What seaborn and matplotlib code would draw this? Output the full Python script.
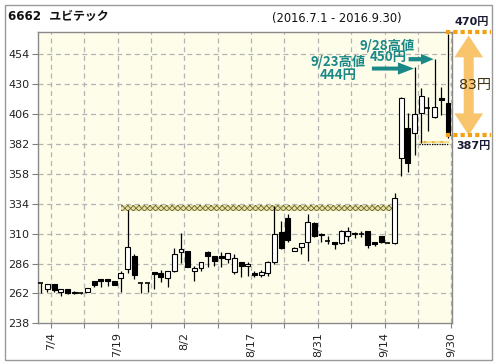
import numpy as np
import pandas as pd
import seaborn as sns
import matplotlib
matplotlib.use("Agg")
import matplotlib.pyplot as plt
from matplotlib.patches import FancyArrow, Rectangle

# ---------------- data ----------------
dates = ['7/1', '7/4', '7/5', '7/6', '7/7', '7/8', '7/11', '7/12', '7/13', '7/14', '7/15',
         '7/19', '7/20', '7/21', '7/22', '7/25', '7/26', '7/27', '7/28', '7/29',
         '8/1', '8/2', '8/3', '8/4', '8/5', '8/8', '8/9', '8/10', '8/12',
         '8/15', '8/16', '8/17', '8/18', '8/19', '8/22', '8/23', '8/24', '8/25', '8/26',
         '8/29', '8/30', '8/31', '9/1', '9/2', '9/5', '9/6', '9/7', '9/8', '9/9',
         '9/12', '9/13', '9/14', '9/15', '9/16', '9/20', '9/21', '9/23',
         '9/26', '9/27', '9/28', '9/29', '9/30']
opens = [270.1, 265.8, 269.3, 262.9, 265.3, 263.4, 262.2, 262.9, 271.7, 273.6, 273.3,
         272.0, 274.4, 281.8, 292.0, 270.3, 270.3, 279.0, 278.6, 274.6,
         280.2, 295.0, 296.0, 280.2, 282.6, 295.0, 292.0, 291.8, 289.9,
         279.0, 287.0, 283.8, 278.0, 276.5, 278.0, 287.0, 311.0, 322.3, 296.3,
         299.0, 303.5, 318.5, 310.0, 304.0, 303.3, 302.7, 308.1, 310.8, 310.0,
         312.0, 303.0, 308.0, 303.2, 302.2, 370.9, 394.5, 391.0,
         406.5, 411.5, 403.5, 418.6, 414.6]
highs = [270.1, 269.8, 269.5, 265.5, 265.3, 263.8, 262.2, 266.1, 271.7, 273.6, 273.3,
         272.0, 280.0, 329.0, 293.6, 270.3, 270.3, 279.0, 280.5, 279.7,
         298.7, 310.2, 296.0, 284.2, 287.0, 296.0, 292.0, 295.0, 294.2,
         293.4, 287.0, 287.5, 280.0, 281.0, 288.0, 332.0, 320.0, 325.7, 299.0,
         302.5, 325.7, 319.0, 310.5, 307.8, 303.5, 312.5, 315.6, 311.0, 312.0,
         312.3, 303.2, 308.3, 303.5, 342.4, 420.0, 406.5, 444.0,
         426.5, 420.0, 450.0, 427.4, 470.0]
lows = [262.6, 263.4, 263.4, 260.2, 261.8, 261.5, 261.3, 262.9, 267.4, 267.4, 268.2,
        268.7, 263.4, 278.1, 273.6, 262.1, 263.4, 265.5, 270.9, 267.4,
        279.0, 286.7, 283.4, 272.2, 280.2, 283.4, 284.2, 283.4, 286.2,
        277.8, 275.4, 276.2, 275.5, 275.0, 276.0, 286.0, 298.0, 303.0, 296.0,
        293.6, 288.3, 307.0, 303.0, 301.5, 298.0, 302.0, 303.8, 306.2, 307.5,
        298.8, 299.8, 302.5, 302.5, 301.5, 356.5, 359.7, 373.0,
        383.0, 392.0, 402.5, 405.0, 387.0]
closes = [270.1, 269.8, 264.7, 265.5, 262.1, 262.1, 262.0, 266.1, 268.5, 271.9, 272.2,
          268.7, 278.1, 299.0, 276.5, 270.3, 270.3, 277.6, 274.9, 279.7,
          293.4, 297.6, 283.4, 282.4, 287.0, 292.3, 287.8, 290.2, 294.2,
          290.2, 284.2, 285.6, 277.0, 279.5, 287.4, 310.0, 298.7, 304.5, 298.2,
          302.4, 319.1, 308.3, 308.7, 304.0, 302.0, 312.0, 312.2, 309.6, 310.0,
          300.6, 301.8, 303.2, 302.8, 338.6, 418.6, 367.0, 405.8,
          420.4, 411.0, 411.5, 417.3, 389.2]
y_ticks = [238, 262, 286, 310, 334, 358, 382, 406, 430, 454]
resistance = (328.5, 333.0)     # hatched band (price range)
support = (382.0, 384.0)        # small band at the right
title_code = '6662  ユビテック'
title_period = '(2016.7.1 - 2016.9.30)'

df = pd.DataFrame({'date': dates, 'open': opens, 'high': highs,
                   'low': lows, 'close': closes})
df['i'] = np.arange(len(df))

# ---------------- style ----------------
sns.set_theme(style='white')
plt.rcParams['font.family'] = ['DejaVu Sans', 'Noto Sans CJK JP']
plt.rcParams['hatch.linewidth'] = 0.6

W, H = 496, 364
fig = plt.figure(figsize=(W / 100, H / 100), dpi=100)
fig.patch.set_facecolor('white')
ax = fig.add_axes([38 / W, 1 - 323.3 / H, (452 - 38) / W, (323.3 - 32.3) / H])
ax.set_facecolor('#fdfdea')

# grid
n = len(df)
grid_x = np.arange(1.5, n, 5)
for gx in grid_x:
    ax.axvline(gx, color='#b4b4b4', lw=0.9, ls=(0, (4, 3)), zorder=0.5)
for gy in y_ticks[1:]:
    ax.axhline(gy, color='#b4b4b4', lw=0.9, ls=(0, (4, 3)), zorder=0.5)

# resistance band
x0 = df.loc[df['date'] == '7/20', 'i'].iloc[0]
x1 = df.loc[df['date'] == '9/16', 'i'].iloc[0] - 0.45
ax.fill_between([x0, x1], resistance[0], resistance[1], facecolor='#e6e2a8',
                edgecolor='#6e6a30', hatch='xxxxxx', lw=0, zorder=1)
# support band (right)
s0 = df.loc[df['date'] == '9/23', 'i'].iloc[0] + 0.6
s1 = n - 1 + 0.1
ax.fill_between([s0, s1], support[0] + 0.5, support[1], facecolor='#f7e090',
                edgecolor='#e0b030', hatch='xxxx', lw=0, zorder=1)
ax.plot([s0, s1], [support[0], support[0]], color='black', lw=0.9,
        ls=(0, (1, 1)), zorder=1.2)

# candles
bw = 0.74
ax.vlines(df['i'], df['low'], df['high'], color='black', lw=0.9, zorder=2)
for _, r in df.iterrows():
    lo, hi = min(r['open'], r['close']), max(r['open'], r['close'])
    up = r['close'] > r['open']
    if hi - lo < 0.6:
        ax.hlines(lo, r['i'] - bw / 2, r['i'] + bw / 2, color='black', lw=1.2, zorder=3)
    else:
        ax.bar(r['i'], hi - lo, bottom=lo, width=bw,
               color='white' if up else 'black', edgecolor='black', lw=0.8, zorder=3)

# axes
ax.set_xlim(-0.42, n - 1 + 0.6)
ax.set_ylim(238, 471.6)
ax.set_yticks(y_ticks)
ax.set_yticklabels([str(v) for v in y_ticks], fontsize=8, color='#222222')
lab_idx = list(range(1, n, 10))
ax.set_xticks([i + 0.5 for i in lab_idx])
ax.set_xticklabels([dates[i] for i in lab_idx], rotation=90, fontsize=8, color='#222222')
ax.set_xticks(grid_x, minor=True)
ax.tick_params(axis='both', which='both', direction='out', color='#808080',
               length=4, width=0.8, left=True, bottom=True, pad=2)
ax.tick_params(axis='x', which='both', length=3.5, pad=3)
for sp in ax.spines.values():
    sp.set_color('#8a8a8a')
    sp.set_linewidth(1.0)

# ---------------- annotations ----------------
teal = '#1b8888'
i28 = df.loc[df['date'] == '9/28', 'i'].iloc[0]
i23 = df.loc[df['date'] == '9/23', 'i'].iloc[0]
h28 = df.loc[i28, 'high']
h23 = df.loc[i23, 'high']
ax.add_patch(FancyArrow(i28 - 3.9, h28, 3.75, 0, width=3.4, head_width=8.6,
                        head_length=1.9, length_includes_head=True,
                        color=teal, lw=0, zorder=5))
ax.add_patch(FancyArrow(i23 - 6.4, h23 - 1.5, 6.3, 0, width=3.2, head_width=9.9,
                        head_length=2.4, length_includes_head=True,
                        color=teal, lw=0, zorder=5))


def ftext(x, y, s, **kw):
    fig.text(x / W, 1 - y / H, s, **kw)


tkw = dict(color=teal, fontsize=9.6, ha='center', va='center',
           family=['Noto Sans CJK JP'], fontweight='bold')
ftext(387, 45, '9/28高値', **tkw)
ftext(388.5, 57.5, f'{h28:.0f}円', **tkw)
ftext(338, 61.5, '9/23高値', **tkw)
ftext(338.5, 74.5, f'{h23:.0f}円', **tkw)

# range of last day
last = df.iloc[-1]
hi_l, lo_l = last['high'], last['low']
orange = '#f5a011'
for yv in (hi_l + 1.5, lo_l + 2.2):
    ax.plot([n - 1 - 0.25, n - 1 + 6.4], [yv, yv], color=orange, lw=3.0,
            ls=(0, (1.0, 0.75)), solid_capstyle='butt', clip_on=False, zorder=6)
xm = n - 1 + 3.1
mid = (hi_l + lo_l) / 2
acol = '#f8c46c'
ax.add_patch(FancyArrow(xm, mid, 0, (hi_l - 1) - mid, width=1.5, head_width=4.3,
                        head_length=17.5, length_includes_head=True,
                        color=acol, lw=0, clip_on=False, zorder=5))
ax.add_patch(FancyArrow(xm, mid, 0, (lo_l + 2) - mid, width=1.5, head_width=4.3,
                        head_length=17.5, length_includes_head=True,
                        color=acol, lw=0, clip_on=False, zorder=5))
ftext(475, 85, f'{hi_l - lo_l:.0f}円', color='#3e3210', fontsize=10.2,
      ha='center', va='center')
ftext(472, 22.5, f'{hi_l:.0f}円', color='#1a1a33', fontsize=8, fontweight='bold',
      ha='center', va='center')
ftext(473, 146.5, f'{lo_l:.0f}円', color='#1a1a33', fontsize=8, fontweight='bold',
      ha='center', va='center')

# titles
ftext(8, 16.5, title_code, fontsize=8.6, fontweight='bold', color='#111111',
      ha='left', va='center')
ftext(272, 18.5, title_period, fontsize=8.3, color='#111111', ha='left', va='center')

# outer frame
fig.add_artist(Rectangle((5 / W, 1 - 359.5 / H), (492 - 5) / W, (359.5 - 5) / H,
                         transform=fig.transFigure, fill=False,
                         edgecolor='#999999', lw=1.0))

fig.savefig('out.png', dpi=100)
